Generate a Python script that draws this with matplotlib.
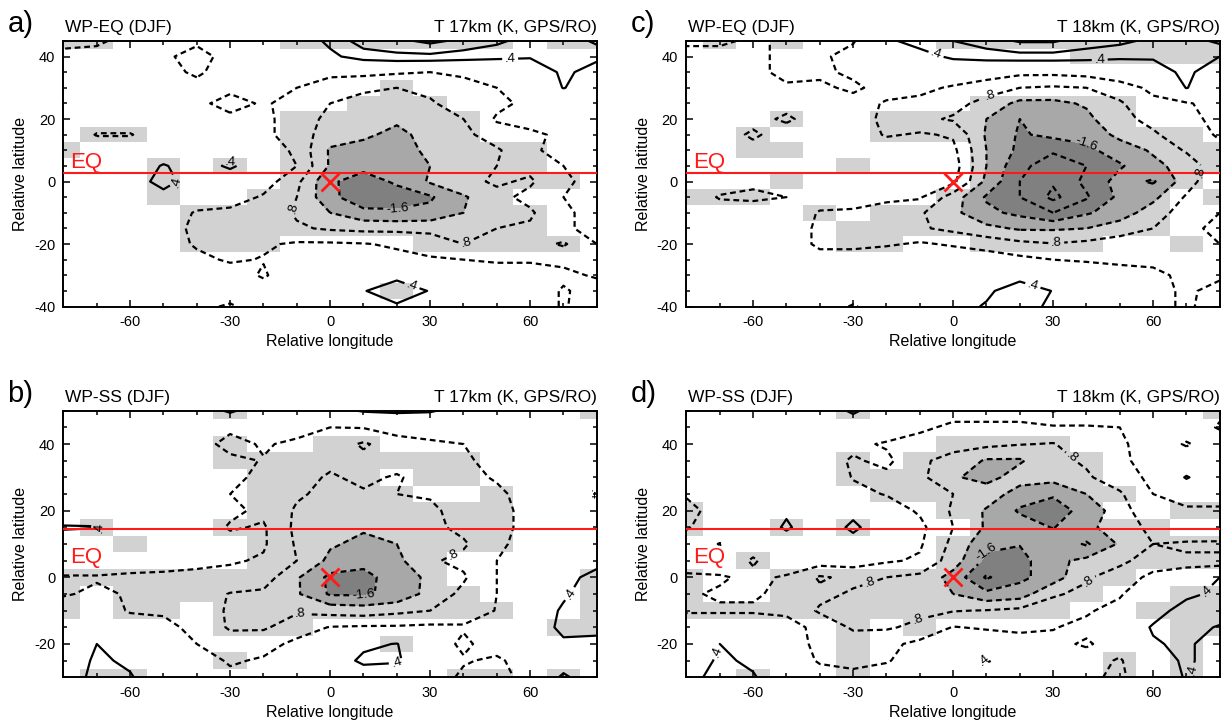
import numpy as np
import matplotlib
matplotlib.use("Agg")
import matplotlib.pyplot as plt
from matplotlib.colors import ListedColormap
from matplotlib.ticker import MultipleLocator

plt.rcParams['font.family'] = ['Liberation Sans', 'DejaVu Sans']
plt.rcParams['axes.unicode_minus'] = False
plt.rcParams['lines.dashed_pattern'] = [2.6, 1.7]

# ---- grid (cell centres) ----
lon = [-80, -70, -60, -50, -40, -30, -20, -10, 0, 10, 20, 30, 40, 50, 60, 70, 80]
lat_eq = [45, 40, 35, 30, 25, 20, 15, 10, 5, 0, -5, -10, -15, -20, -25, -30, -35, -40]
lat_ss = [50, 45, 40, 35, 30, 25, 20, 15, 10, 5, 0, -5, -10, -15, -20, -25, -30]

# ---- temperature anomaly, 0.1 K, rows from north to south ----
t17_eq = [
    [-5, -5, -2, -2, -3, -1, 0, 1, 5, 10, 11, 13, 11, 9, 6, 5, 9],
    [-3, -2, -1, -3, -6, -2, -1, 0, 3, 6, 7, 7, 6, 5, 4.5, 6, 5],
    [-1, -1, 0, -2, -5, -1, -1, -2, -3, -3, -3.5, -4, -3, -1, 0, 5, 2],
    [0, 0, 0, -1, -2, -3, -3, -4, -6, -7, -8, -7, -6, -4, -1, 4.2, 1],
    [0, 0, -1, -1, -3, -5.5, -3.5, -5.5, -8, -10, -10, -8.5, -6, -5, -3, -1, 0],
    [0, -1, -1, -1, -2, -3, -3, -6, -9, -10, -11, -10, -8, -3.5, -2, -1, 0],
    [0, -4.3, -4.3, -1, -2, -2, -3, -6, -10, -11, -13.5, -10, -9, -6, -5, -3, -1],
    [-1, -1, -1, 0, 0, 1, -1, -5, -12.5, -14, -14, -11, -9.5, -8.5, -5, -2, -1],
    [-1, -1, 0, 4.5, 1, 5, 0, -4, -12.5, -15, -14.5, -12, -10, -8, -7, -4, -2],
    [-1, 0, 1, 6, 1, 0, -2, -7, -15.5, -17.5, -15.5, -11.5, -9, -7.5, -8.5, -5, -2],
    [-1, -1, 0, 2, -1, -2, -4.5, -8, -15, -18.5, -17.5, -16.5, -12.5, -9, -7, -4, -2],
    [-1, -1, -1, -1, -4.5, -5, -5.5, -8.5, -12, -15, -15.5, -15, -12, -9, -8.5, -5, -2],
    [-1, -1, -1, -2, -5, -5, -5, -7.5, -8.5, -9, -9, -9, -9, -8, -7.5, -5, -2],
    [-1, -1, -1, -2, -4.5, -5, -4.5, -3.5, -3.5, -3.8, -4.5, -6, -8, -7, -6.5, -8.5, -4],
    [0, 0, 0, -1, -3, -4.5, -3.8, -2, -2, -2, -3, -3.5, -4, -4.5, -4.5, -5, -5],
    [0, 0, 0, 0, -1, -2, -4.5, -1, 0, 1, 3, 1, -1, -2, -2, -3, -4.5],
    [0, 0, 0, 0, -1, -2, -2, 0, 1, 3.8, 6, 3.8, 1, 0, -1, -4.5, -2],
    [0, 0, 0, -1, -3, -4.5, -2, 0, 1, 2, 3.5, 2, 1, 0, -1, -4.5, -1],
]

t18_eq = [
    [-5, -5, -3, -5, -6, -4.5, 3, 6, 8, 10, 12.5, 12.5, 10, 9, 7, 6, 9],
    [-2, -2, -2, -6, -5, -2, -1, 2, 5, 6, 6.5, 6.5, 6, 5, 4.5, 6, 4],
    [-1, -1, -2, -6, -5, -3, -2, -1, -1, -2, -3, -3, -2.5, -1, 2, 5, 1],
    [0, 0, -1, -3, -3, -5, -2, -3, -4.5, -6, -8, -8.5, -8, -6, -3, 4.2, 0],
    [0, 0, -1, -2, -2, -2, -4.5, -5, -6.5, -9.5, -13, -13, -11.5, -8.5, -5, -4.5, -2],
    [0, 0, -2, -5, -1, -2, -5, -7, -8.5, -12, -16, -15, -13, -9, -7, -5, -3],
    [0, -1, -5, -1, 0, -1, -4.5, -3.5, -4.5, -12.5, -16.5, -15, -14.5, -11, -8.5, -6, -3.5],
    [0, 0, -2, -1, 0, 0, -1, -1, -3, -12, -17, -19.5, -17, -14, -11.5, -7.5, -5],
    [0, 0, -1, -1, 0, -1, 0, 0, -2, -12, -19, -22, -20, -16.5, -13, -10.5, -5],
    [0, -1, -3, -3, -1, 0, 0, 0, -3, -13, -20, -23.5, -19, -14.5, -16.5, -10, -4],
    [0, -4.5, -5, -4, -1, -1, -3.5, -3.5, -10, -16.5, -20, -25, -20.5, -15, -13, -7.5, -4],
    [0, -1, -1, 0, -4.5, -5, -5, -7.5, -11, -15, -17, -20, -16.5, -14, -10, -6, -4],
    [0, 0, 0, -1, -5, -5.5, -5, -7.5, -9, -11, -12.5, -12.5, -12, -10, -8, -5, -3],
    [0, 0, 0, -1, -5, -5, -4.5, -3.5, -4.5, -5.5, -7, -7.8, -7, -6, -5, -5, -4],
    [0, 0, 0, 0, -2, -2, -1, 0, -1, -2, -3, -4, -4.5, -5, -5, -6, -5],
    [0, 0, 0, 0, -1, -1, 0, 0, 1, 2, 2, 1, -1, -2, -3, -5, -5],
    [0, 0, 0, 0, 0, -1, 0, 1, 2, 3, 7, 3.8, 1, 0, -2, -5, -2],
    [0, 0, 0, 0, -1, -4.5, -1, 0, 2, 4.5, 6, 3, 1, 0, -2, -5, -1],
]

t17_ss = [
    [0, 0, 0, 0, 0, 5, 0, 0, 2, 4.5, 5, 4.5, 2, 0, 0, 0, 1],
    [0, 0, 0, 0, -1, -3, -1, -2, -4, -3.8, -2, -1, 0, 0, 0, 0, 0],
    [0, 0, 0, 0, -2, -5.5, -3.5, -5, -6, -8.5, -6, -5, -4, -1, 0, 0, 0],
    [0, 0, 0, 0, -1, -3, -4.2, -5, -7, -7, -6, -6, -5, -2, 0, 0, 0],
    [0, 0, 0, 0, -1, -3, -5, -6.5, -8.5, -7, -8.5, -6, -5.5, -3.5, -1, 1, 0],
    [0, 0, 0, 0, -1, -4, -5, -7.5, -9, -8.5, -8, -7.5, -6, -5, -2, 0, 4.5],
    [0, 1, 0, 0, -1, -3, -5, -8.5, -10, -10, -9.5, -9, -6, -5, -3, 0, 1],
    [4.5, 4.2, 1, 0, -1, -4.5, -3.5, -9, -11, -11.5, -10, -9, -7, -5, -3, 0, 0],
    [1, 0, 0, 0, -1, -2, -3.5, -8.5, -11.5, -13, -12, -8.5, -8.5, -5, -2, 0, 0],
    [0, 0, -1, -2, -3, -3.5, -4.5, -8, -13, -15, -13, -8.5, -7, -4, -2, 1, 2],
    [-4.5, -4.5, -5, -5, -5, -5.5, -6, -11.5, -17, -17, -14.5, -11, -8.5, -4, -2, 2, 6],
    [-4.5, -3, -4.5, -5, -6, -8.2, -8.8, -11.5, -16.5, -16.5, -15, -10.5, -7, -4, -1, 3, 8],
    [-1, -1, -4.5, -4.5, -6, -8.5, -9, -8.5, -9.5, -10, -9, -8, -6.5, -3.8, -1, 5, 8],
    [0, 0, -1, -3, -5, -8.5, -8.5, -6, -3.8, -3.5, -3.5, -3.2, -3.5, -2, 0, 5.5, 5],
    [0, 4, 1, -1, -4, -6, -5.5, -3, -1, 3, 4.2, -1, -5, -1.5, 0, 3, 3],
    [0, 5, 3, 0, -2, -4.5, -3.5, -1, 1, 5, 4.5, 1, -3.5, -5, -1, 1, 0],
    [2, 5, 4.5, 0, -1, -3, -1, 0, 0, 1, 1, -1, -5, -6, -2, 5, 0],
]

t18_ss = [
    [0, 0, 0, 0, 0, 5, 0, -1, -2, -2, -2, 4.5, 0, -2, 0, 0, -3],
    [0, 0, 0, 1, 0, 0, -1, -3, -5, -5, -5, -5, -4.5, -4, -3, -1, -4.5],
    [0, 0, 0, 0, -1, -3, -4.5, -6, -7, -7, -7.8, -8.2, -6, -5, -1, -4.5, -1],
    [0, 0, 0, -1, -2, -4.5, -3, -7.5, -9, -12.5, -12.5, -9, -7.5, -5, -2, -1, -1],
    [0, 0, 0, 0, -1, -4.2, -5, -7, -11.5, -13.5, -10, -10.5, -8.5, -6, -3, 4.5, -1],
    [-3.5, -2, 0, 0, -1, -3, -4.2, -6.5, -8, -9.5, -14, -15.5, -12, -8.5, -4, -1, -1],
    [-5.5, -2, -1, 3, -1, 2, -2, -4.5, -8.5, -12.5, -16.5, -18, -14.5, -10, -4.5, -5, -5],
    [-4.5, -1, -1, 5, -1, 5.5, -1, -3, -8, -12.5, -14, -16.2, -13, -10, -7, -5, -5.5],
    [-1, -4.2, -2, 0, -1, 1, -2, -3.5, -9, -15, -15.8, -13, -16.5, -11.5, -8, -8.5, -8.5],
    [-1, -1, -4.5, -1, -2, -2, -3.5, -4.5, -10, -17, -17.5, -13, -11, -9, -6, -7.5, -7.5],
    [-5, -4.5, -3, -4.5, -8.5, -7, -8, -9, -13.5, -20.5, -17, -14, -8.5, -6, -3, 1, 4],
    [-4.5, -3.5, -3.5, -5, -7, -8.5, -9, -10, -12, -15, -14, -8.5, -7, -4.5, 0, 3, 5],
    [-4.5, -4.5, -4.5, -5, -8.5, -9.5, -9.5, -9, -8.2, -7.8, -7, -6, -4.5, -2.5, 2, 6, 7],
    [-1, -1, -1, -2, -5.5, -8.5, -8.5, -7, -3.8, -4.5, -4.5, -4.2, -3, 0, 4.5, 6, 3.5],
    [0, 4, 2, -2, -5, -6, -5, -3, -2, -1, -3, -3, -4.5, -2, 3.5, 5, 1],
    [0, 5, 3, -1, -4.5, -5, -4.5, -1, 0, 4.5, 1, -1, -2, -4.5, 1, 5, 1],
    [3, 5, 4.5, 0, -2, -3, -1, 0, 0, 1, 0, -1, -3, -5, 0, 4.5, 0],
]

# ---- significant cells ('#'), rows from north to south ----
sig_t17_eq = [
    "##.....#######.##", ".................", ".................", "..........#......",
    ".........###.....", ".......######....", ".##....######....", "#......########..",
    "...#.#.########..", "...#...#########.", "...#..########...", "....###########..",
    "....###########..", "....###....#####.", ".................", ".................",
    "..........#......", ".................",
]
sig_t18_eq = [
    ".#.#....#########", "............#####", ".................", ".................",
    ".........#####...", "...#..########...", "..#...##########.", "..##.....########",
    ".....#...########", "...#.....#######.", "###.....#######.#", "....#.#########..",
    ".....##########..", ".....##..####..#.", ".................", ".................",
    ".................", ".................",
]
sig_t17_ss = [
    ".....#..........#", ".................", ".....#..##.......", ".....########....",
    "......####.##....", "......#####..#...", "......########...", ".#...#########...",
    "..#...########...", "......######.....", "############....#", "#.###########...#",
    "#.##.#########..#", ".....###.......##", "..........#......", ".....#...........",
    ".##.........##.#.",
]
sig_t18_ss = [
    ".....#..........#", ".................", "........####.....", ".....#.######....",
    ".....########....", "......########...", "#.......#####..##", "#..#.#...######..",
    "........#########", "..#.....#########", "#..###########...", "#..##########..##",
    "############..###", ".....#.#.......##", ".....#.........#.", ".....#.......#.#.",
    "..#..#.......#.#.",
]

# reference points
center_lon, center_lat = 0, 0
eq_lat_eq = 2.6     # equator relative to WP-EQ centre
eq_lat_ss = 14.5    # equator relative to WP-SS centre

# contour labels (level, lon, lat)
labels_a = [(0.4, 54, 39), (0.4, -30, 7.5), (0.4, -45, -1), (-0.8, -10, -9),
            (-1.6, 20, -7.5), (-0.8, 40, -18), (0.4, 25, -32)]
labels_c = [(0.4, -6, 38), (0.4, 44, 38.5), (-0.8, 11, 27.5), (-1.6, 40, 12),
            (-0.8, 72, 3.5), (-0.8, 31, -20.5), (0.4, 24, -33)]
labels_b = [(0.4, -62, 13), (-0.8, 36, 9), (-0.8, -9, -11.5), (-1.6, 10, -7),
            (0.4, 20, -26), (0.4, 72, -5), (0.4, 76, 24)]
labels_d = [(-0.8, 34, 34), (-1.6, 9, 8), (-0.8, -25, -1.5), (-0.8, 41, -1.5),
            (-0.8, -10, -14.5), (0.4, -72, -22), (0.4, 9, -24), (0.4, 74, -2), (0.4, 72, -28)]

LEVELS = [-2.4, -2.0, -1.6, -1.2, -0.8, -0.4, 0.4, 0.8, 1.2]
LIGHT, MID, DARK = '#d2d2d2', '#a8a8a8', '#808080'
RED = '#ff1a1a'


def label_text(v):
    if abs(v) < 1:
        return ("%.1f" % abs(v))[1:]
    return "%.1f" % v


def draw_panel(ax, lats, field, sig, labels, eq_lat, tag, left_title, right_title, ylim):
    x = np.array(lon, dtype=float)
    y = np.array(lats[::-1], dtype=float)
    z = np.array(field[::-1], dtype=float) / 10.0
    cells = np.array([[c == '#' for c in row] for row in sig[::-1]], dtype=float)
    cells = np.ma.masked_equal(cells, 0)

    # significance boxes
    x_edges = np.concatenate([x - 5, [x[-1] + 5]])
    y_edges = np.concatenate([y - 2.5, [y[-1] + 2.5]])
    ax.pcolormesh(x_edges, y_edges, cells, cmap=ListedColormap([LIGHT]),
                  vmin=0, vmax=1, shading='flat', zorder=0)

    # strong cooling shading
    ax.contourf(x, y, z, levels=[-10, -1.6, -1.2], colors=[DARK, MID], zorder=1)

    # one contour set per level so labels can be placed per level
    sets = {}
    for lev in LEVELS:
        ls = 'dashed' if lev < 0 else 'solid'
        sets[lev] = ax.contour(x, y, z, levels=[lev], colors='k', linewidths=1.6,
                               linestyles=ls, zorder=2)

    for lev, lx, ly in labels:
        cs = sets[lev]
        if len(cs.get_paths()) == 0 or len(cs.get_paths()[0].vertices) == 0:
            continue
        ax.clabel(cs, manual=[(lx, ly)], fmt=label_text,
                  inline=True, inline_spacing=2, fontsize=9.5)

    ax.axhline(eq_lat, color=RED, lw=1.5, zorder=3)
    ax.text(-78, 4.3, 'EQ', color=RED, fontsize=16, va='baseline', zorder=4)
    ax.plot(center_lon, center_lat, marker='x', ms=13, mew=2, color=RED, zorder=4)

    ax.set_xlim(-80, 80)
    ax.set_ylim(*ylim)
    ax.xaxis.set_major_locator(MultipleLocator(30))
    ax.xaxis.set_minor_locator(MultipleLocator(10))
    ax.yaxis.set_major_locator(MultipleLocator(20))
    ax.yaxis.set_minor_locator(MultipleLocator(5))
    ax.tick_params(which='both', direction='in', top=True, right=True, width=1.1)
    ax.tick_params(which='major', length=5, labelsize=10.5, pad=6)
    ax.tick_params(which='minor', length=3)
    for s in ax.spines.values():
        s.set_linewidth(1.4)
    ax.set_xlabel('Relative longitude', fontsize=11.5, labelpad=4)
    ax.set_ylabel('Relative latitude', fontsize=11.5, labelpad=4)

    ax.annotate(tag, xy=(0, 1), xycoords='axes fraction', xytext=(-56, 9),
                textcoords='offset pixels', fontsize=21, ha='left', va='baseline')
    ax.annotate(left_title, xy=(0, 1), xycoords='axes fraction', xytext=(2, 9),
                textcoords='offset pixels', fontsize=12.5, ha='left', va='baseline')
    ax.annotate(right_title, xy=(1, 1), xycoords='axes fraction', xytext=(0, 9),
                textcoords='offset pixels', fontsize=12.5, ha='right', va='baseline')


fig = plt.figure(figsize=(12.28, 7.25), dpi=100)
ax_a = fig.add_axes([0.0517, 0.5772, 0.4343, 0.3664])
ax_c = fig.add_axes([0.5590, 0.5772, 0.4343, 0.3664])
ax_b = fig.add_axes([0.0517, 0.0658, 0.4343, 0.3677])
ax_d = fig.add_axes([0.5590, 0.0658, 0.4343, 0.3677])

draw_panel(ax_a, lat_eq, t17_eq, sig_t17_eq, labels_a, eq_lat_eq, 'a)',
           'WP-EQ (DJF)', 'T 17km (K, GPS/RO)', (-40, 45))
draw_panel(ax_c, lat_eq, t18_eq, sig_t18_eq, labels_c, eq_lat_eq, 'c)',
           'WP-EQ (DJF)', 'T 18km (K, GPS/RO)', (-40, 45))
draw_panel(ax_b, lat_ss, t17_ss, sig_t17_ss, labels_b, eq_lat_ss, 'b)',
           'WP-SS (DJF)', 'T 17km (K, GPS/RO)', (-30, 50))
draw_panel(ax_d, lat_ss, t18_ss, sig_t18_ss, labels_d, eq_lat_ss, 'd)',
           'WP-SS (DJF)', 'T 18km (K, GPS/RO)', (-30, 50))

fig.savefig('out.png', dpi=100)
